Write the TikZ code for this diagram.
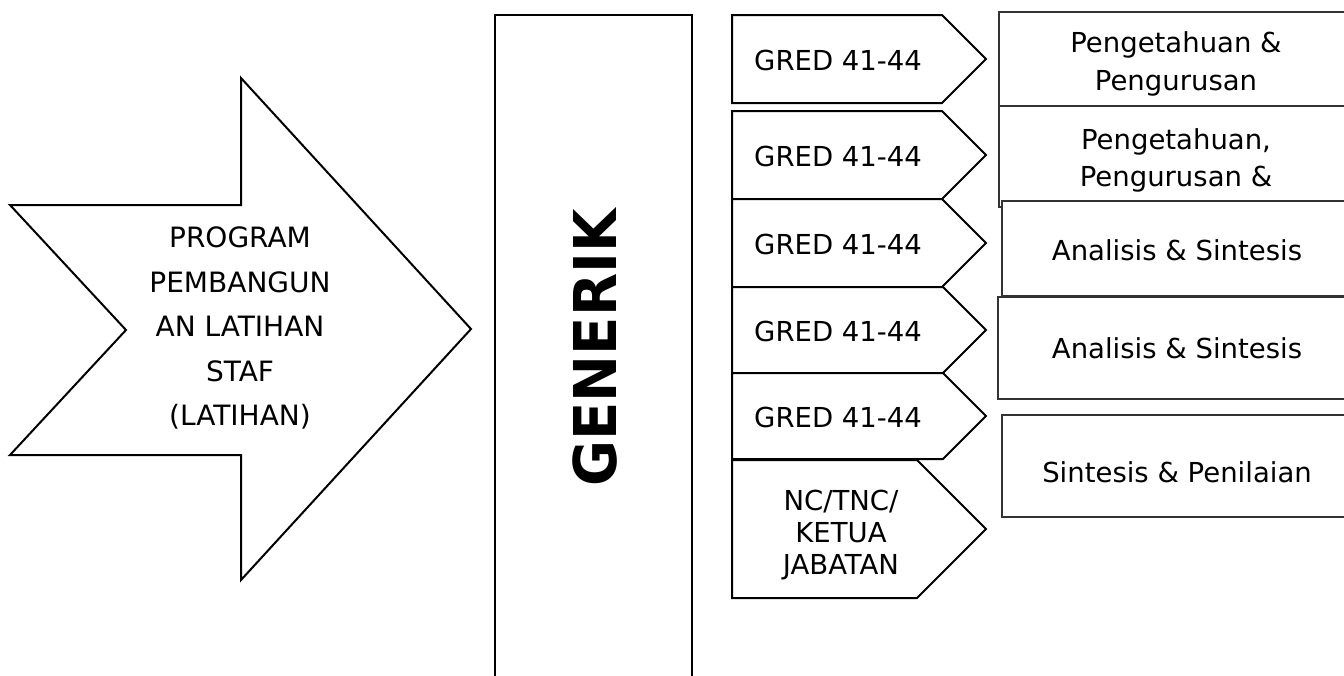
\documentclass[tikz,border=0pt]{standalone}
\usepackage{fontspec}
\setmainfont{DejaVu Sans}
\usetikzlibrary{positioning}
\tikzset{
    outline/.style={draw=black, line width=1pt, line join=miter, fill=white},
    thinbox/.style={draw=black!80, line width=0.55pt, fill=white},
    txt/.style={font=\fontsize{13.75}{16}\selectfont, align=center, inner sep=0pt},
    headtxt/.style={font=\bfseries\fontsize{29.5}{30}\selectfont, inner sep=0pt, rotate=90}
}
% pointed grade box: name, top, bottom, text x, text y, text
\newcommand{\gredarrow}[6]{%
    \pgfmathsetmacro{\gbody}{986-(#3-#2)/2}
    \pgfmathsetmacro{\gmid}{(#2+#3)/2}
    \draw[outline] (732,#2) -- (\gbody,#2) -- (986,\gmid) -- (\gbody,#3) -- (732,#3) -- cycle;
    \node[txt] (#1) at (#4,#5) {#6};
}

\begin{document}
\begin{tikzpicture}[x=0.5pt, y=-0.5pt]
    \useasboundingbox (0,0) rectangle (1344,675);
    \clip (0,0) rectangle (1344,675);
    % === BIG ARROW ===
    \draw[outline] (10,205) -- (241,205) -- (241,78) -- (471,329) -- (241,580)
        -- (241,455) -- (10,455) -- (126,330) -- cycle;
    \node[txt, font=\fontsize{14}{22.25}\selectfont] (program) at (240,328)
        {PROGRAM\\PEMBANGUN\\AN LATIHAN\\STAF\\(LATIHAN)};
    % === GENERIK column ===
    \draw[outline] (495,15) rectangle (692,700);
    \node[headtxt] (generik) at (595.5,348) {\scalebox{0.95}[1]{GENERIK}};
    % === grade boxes ===
    \gredarrow{gredA}{15}{103}{838}{60}{GRED 41-44}
    \gredarrow{gredB}{111}{199}{838}{156}{GRED 41-44}
    \gredarrow{gredC}{199}{287}{838}{244}{GRED 41-44}
    \gredarrow{gredD}{287}{373}{838}{331}{GRED 41-44}
    \gredarrow{gredE}{373}{459}{838}{417}{GRED 41-44}
    \gredarrow{ketua}{460}{598}{841}{535}{NC/TNC/\\KETUA\\JABATAN}
    % === levels ===
    \draw[thinbox] (999,12) rectangle (1353,113);
    \node[txt, font=\fontsize{13.75}{19}\selectfont] (levelA) at (1176,64)
        {Pengetahuan \&\\Pengurusan};
    \draw[thinbox] (999,106) rectangle (1353,207);
    \node[txt, font=\fontsize{13.75}{18.5}\selectfont] (levelB) at (1176,160)
        {Pengetahuan,\\Pengurusan \&};
    \draw[thinbox] (1002,201) rectangle (1353,296);
    \node[txt] (levelC) at (1177,250) {Analisis \& Sintesis};
    \draw[thinbox] (998,297) rectangle (1353,399);
    \node[txt] (levelD) at (1177,348) {Analisis \& Sintesis};
    \draw[thinbox] (1002,415) rectangle (1353,517);
    \node[txt] (levelE) at (1177,472) {Sintesis \& Penilaian};
\end{tikzpicture}
\end{document}
